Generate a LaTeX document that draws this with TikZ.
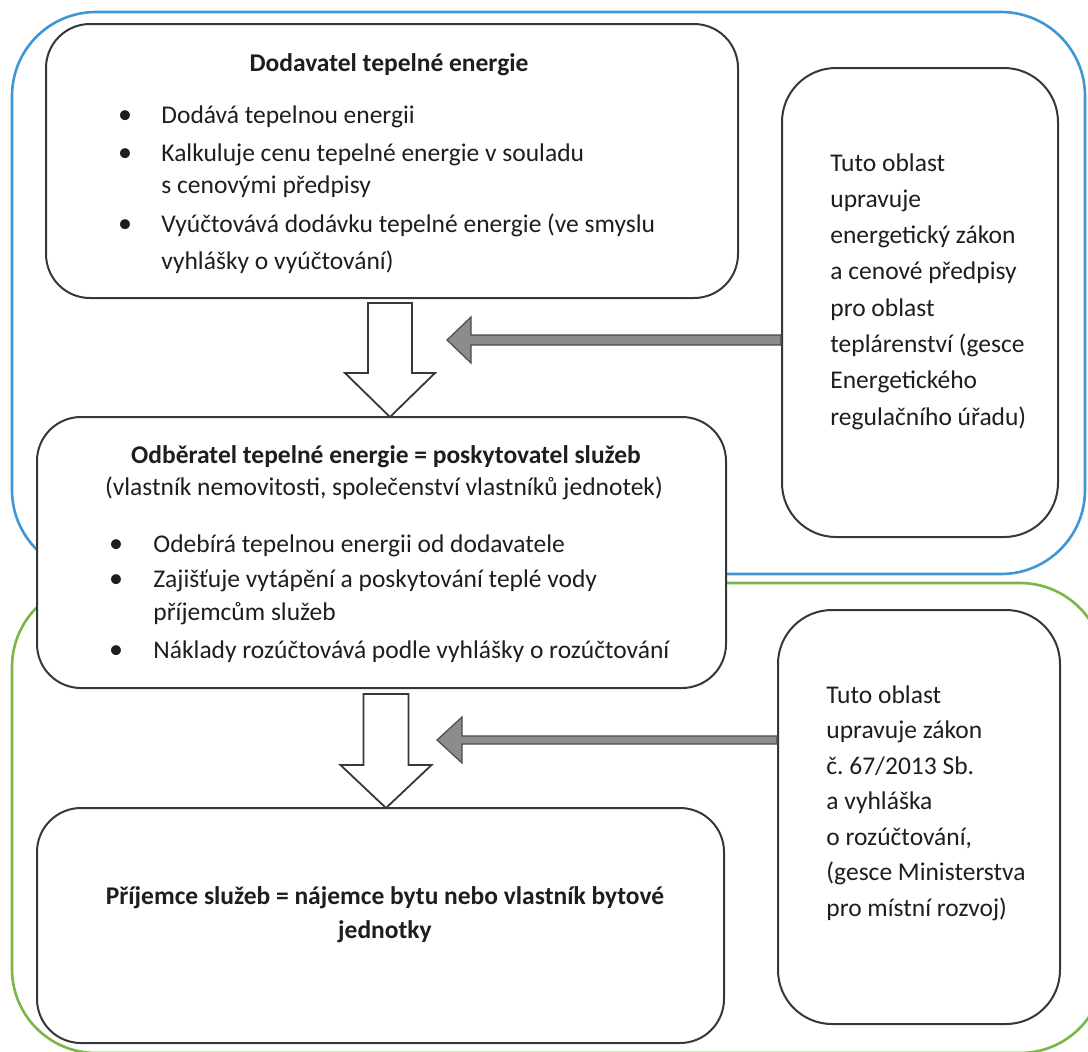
\documentclass[tikz,border=0pt]{standalone}
\usepackage{fontspec}
\setmainfont{Carlito}
\usepackage{tikz}
\usetikzlibrary{positioning, calc}
\definecolor{modra}{RGB}{62, 150, 213}
\definecolor{zelena}{RGB}{122, 182, 72}
\definecolor{seda}{RGB}{140, 140, 140}
\definecolor{obrys}{RGB}{55, 55, 55}
\definecolor{pismo}{RGB}{30, 30, 30}
\tikzset{
    ramec/.style={draw, rounded corners=42pt, line width=1.3pt},
    blok/.style={draw=obrys, fill=white, rounded corners=22pt, line width=1pt, inner sep=0pt},
    blokR/.style={draw=obrys, fill=white, rounded corners=27pt, line width=1pt, inner sep=0pt},
    txt/.style={text=pismo, anchor=base west, inner sep=0pt, font=\fontsize{12.75}{15}\selectfont},
    hlav/.style={text=pismo, anchor=base, inner sep=0pt, font=\fontsize{12.75}{15}\selectfont\bfseries},
    bod/.style={text=pismo, anchor=base, inner sep=0pt, font=\fontsize{14}{14}\selectfont},
    dutaSipka/.style={draw=obrys, fill=white, line width=0.9pt, line join=miter},
    sedaSipka/.style={draw=obrys!90, fill=seda, line width=0.6pt, line join=miter},
}
\begin{document}
\frenchspacing
\begin{tikzpicture}[x=0.5pt, y=-0.5pt]
    \useasboundingbox (0,0) rectangle (1088,1051);
    \clip (0,0) rectangle (1088,1051);

    \draw[ramec, draw=modra] (12,12) rectangle (1085,574);
    \draw[ramec, draw=zelena] (12,583) rectangle (1104,1053);

    \node[blok, minimum width=346pt, minimum height=137pt] (dod) at (392,161) {};
    \node[blok, minimum width=344.5pt, minimum height=135.5pt] (odb) at (381.5,552.5) {};
    \node[blok, minimum width=343.5pt, minimum height=117.5pt] (pri) at (380.5,925.5) {};
    \node[blokR, minimum width=138pt, minimum height=234.5pt] (eru) at (920,302.5) {};
    \node[blokR, minimum width=141pt, minimum height=207pt] (mmr) at (919,817) {};

    \coordinate (s1) at (390,417);
    \coordinate (s2) at (386,808);
    \draw[dutaSipka] (s1) -- ++(-45,-44) -- ++(23,0) -- ++(0,-70) -- ++(44,0) -- ++(0,70) -- ++(23,0) -- cycle;
    \draw[dutaSipka] (s2) -- ++(-45.5,-43) -- ++(23,0) -- ++(0,-71) -- ++(45,0) -- ++(0,71) -- ++(23,0) -- cycle;

    \coordinate (g1) at (447,340);
    \coordinate (g2) at (437,740);
    \draw[sedaSipka] (g1) -- ++(24,-23) -- ++(0,18) -- ($(eru.west |- g1)+(0,-5)$)
        -- ($(eru.west |- g1)+(0,5)$) -- ($(g1)+(24,5)$) -- ++(0,18) -- cycle;
    \draw[sedaSipka] (g2) -- ++(25,-23) -- ++(0,19) -- ($(mmr.west |- g2)+(0,-4)$)
        -- ($(mmr.west |- g2)+(0,4)$) -- ($(g2)+(25,4)$) -- ++(0,19) -- cycle;

    \node[hlav] (dodT) at (389,71) {Dodavatel tepelné energie};
    \foreach \t/\yy [count=\i] in {Dodává tepelnou energii/123,
        Kalkuluje cenu tepelné energie v souladu/161,
        s cenovými předpisy/193,
        Vyúčtovává dodávku tepelné energie (ve smyslu/232,
        vyhlášky o vyúčtování)/269}
        \node[txt] (dod\i) at (161,\yy) {\t};
    \foreach \yy [count=\i] in {123,161,232}
        \node[bod] (dodB\i) at (125,\yy) {•};

    \node[hlav] (odbT) at (386,463) {Odběratel tepelné energie = poskytovatel služeb};
    \node[txt, anchor=base] (odbP) at (384,495) {(vlastník nemovitosti, společenství vlastníků jednotek)};
    \foreach \t/\yy [count=\i] in {Odebírá tepelnou energii od dodavatele/552,
        Zajišťuje vytápění a poskytování teplé vody/587,
        příjemcům služeb/620,
        Náklady rozúčtovává podle vyhlášky o rozúčtování/658}
        \node[txt] (odb\i) at (153,\yy) {\t};
    \foreach \yy [count=\i] in {552,587,658}
        \node[bod] (odbB\i) at (116,\yy) {•};

    \node[hlav] (priT1) at (385,904) {Příjemce služeb = nájemce bytu nebo vlastník bytové};
    \node[hlav] (priT2) at (385,938) {jednotky};

    \foreach \t [count=\i] in {Tuto oblast, upravuje, energetický zákon, a cenové předpisy,
        pro oblast, teplárenství (gesce, Energetického, regulačního úřadu)}
        \node[txt] (eru\i) at (830,{171+36.3*(\i-1)}) {\t};
    \foreach \t [count=\i] in {Tuto oblast, upravuje zákon, č. 67/2013 Sb., a vyhláška,
        {o rozúčtování,}, {(gesce Ministerstva}, {pro místní rozvoj)}}
        \node[txt] (mmr\i) at (826,{703+35.5*(\i-1)}) {\t};
\end{tikzpicture}
\end{document}
